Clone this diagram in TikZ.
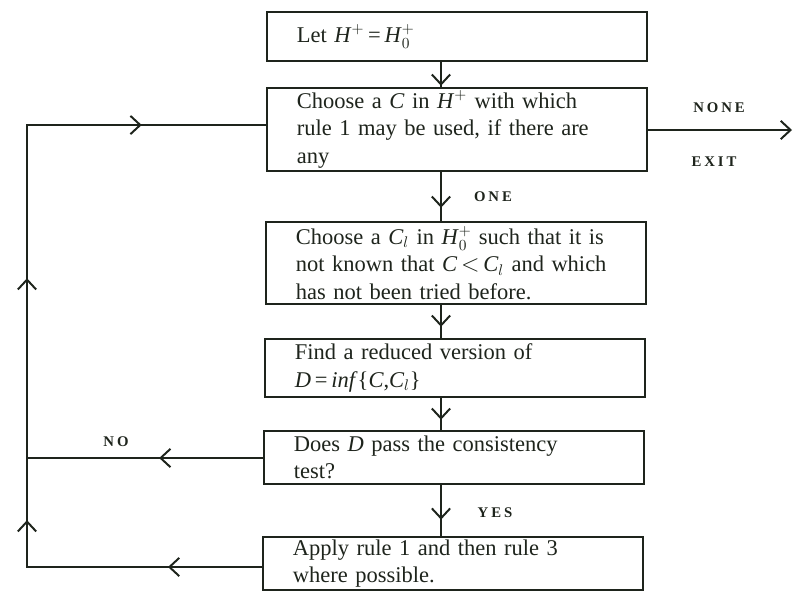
\documentclass[tikz,border=0pt]{standalone}
\usepackage{fontspec}
\setmainfont{Liberation Serif}
\newfontfamily\lblfont[LetterSpace=20]{Liberation Serif}
\usetikzlibrary{arrows.meta,decorations.markings}
\definecolor{ink}{RGB}{30,36,28}
\newcommand{\vv}[1]{\textit{#1}}
\tikzset{
  procbox/.style={draw=ink, line width=1.4pt, text=ink, align=left, text width=8.0cm,
    inner xsep=0.75cm, inner ysep=0pt, font=\fontsize{16}{19.5}\selectfont},
  lbl/.style={text=ink, font=\lblfont\bfseries\fontsize{10.5}{12}\selectfont},
  midarr/.style={postaction={decorate}, decoration={markings,
    mark=at position #1 with {\arrow{Straight Barb[length=7pt,width=13pt]}}}}
}

\begin{document}
\begin{tikzpicture}[x=0.025cm,y=-0.025cm]
    \useasboundingbox (0,0) rectangle (794,595);

    \node [procbox, minimum height=1.225cm] (let) at (457,36.5) {Let \vv{H}$^+$\,=\,\vv{H}$^+_0$};
    \node [procbox, minimum height=2.075cm] (choose) at (457,129.5) {Choose a \vv{C} in \vv{H}$^+$ with which\\ rule 1 may be used, if there are\\ any};
    \node [procbox, minimum height=2.05cm] (pick) at (456,263) {Choose a \vv{C$_l$} in \vv{H}$^+_0$ such that it is\\ not known that \vv{C}\,$<$\,\vv{C$_l$} and which\\ has not been tried before.};
    \node [procbox, minimum height=1.45cm] (reduce) at (455,368) {Find a reduced version of\\ \vv{D}\,=\,\vv{inf}\{\vv{C},\vv{C$_l$}\}};
    \node [procbox, minimum height=1.325cm] (test) at (454,457.5) {Does \vv{D} pass the consistency\\ test?};
    \node [procbox, minimum height=1.325cm] (apply) at (453,563.5) {Apply rule 1 and then rule 3\\ where possible.};

    \node [lbl] (none) at (719,108) {NONE};
    \node [lbl] (exitlbl) at (714,162) {EXIT};
    \node [lbl] (one) at (493,197) {ONE};
    \node [lbl] (yes) at (495,513) {YES};
    \node [lbl] (no) at (116,442) {NO};

    \coordinate (cx) at (441,0);
    \coordinate (lt) at (27,125);
    \coordinate (ln) at (27,458);
    \coordinate (lb) at (27,567);
    \coordinate (out) at (792,130);

    \begin{scope}[draw=ink, line width=1.4pt, line cap=rect]
    \draw[midarr=0.95] (let.south -| cx) -- (choose.north -| cx);
    \draw[midarr=0.73] (choose.south -| cx) -- (pick.north -| cx);
    \draw[midarr=0.66] (pick.south -| cx) -- (reduce.north -| cx);
    \draw[midarr=0.68] (reduce.south -| cx) -- (test.north -| cx);
    \draw[midarr=0.68] (test.south -| cx) -- (apply.north -| cx);
    \draw[-{Straight Barb[length=7pt,width=13pt]}] (choose.east |- out) -- (out);
    % loop back on the left
    \draw[midarr=0.4] (apply.west |- lb) -- (lb);
    \draw[midarr=0.43] (lb) -- (ln);
    \draw[midarr=0.54] (ln) -- (lt);
    \draw[midarr=0.48] (lt) -- (lt -| choose.west);
    \draw[midarr=0.44] (test.west |- ln) -- (ln);
    \end{scope}

\end{tikzpicture}
\end{document}
